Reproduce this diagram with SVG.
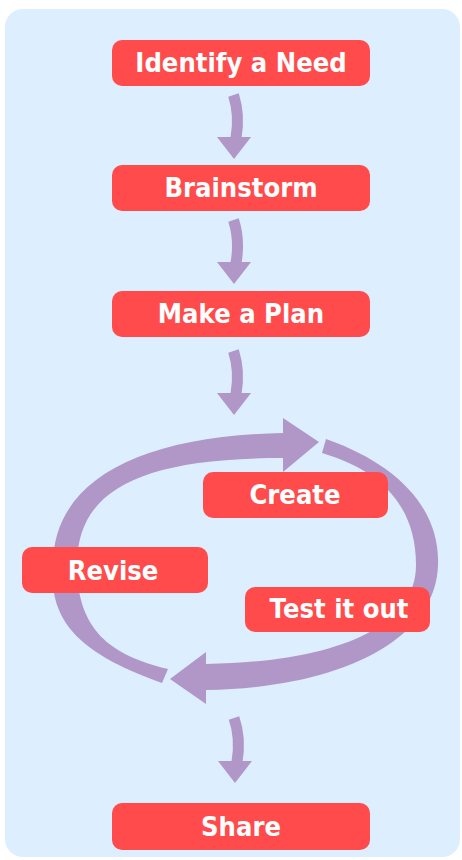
<svg xmlns="http://www.w3.org/2000/svg" width="462" height="860" viewBox="0 0 462 860">
  <style>
    .box { fill: #ff4b4b; }
    .label { fill: #ffffff; font-family: "DejaVu Sans", "Verdana", sans-serif; font-weight: bold; font-size: 24.4px; text-anchor: middle; }
    .shaft { fill: none; stroke: #b197c7; stroke-width: 11; stroke-linecap: butt; }
    .flow { fill: #b197c7; }
  </style>

  <!-- panel -->
  <rect x="5" y="9" width="455" height="848" rx="18" fill="#ddeeff"/>

  <!-- connectors -->
  <g id="connectors">
    <!-- straight-ish step arrows -->
    <g id="arrow-need-brainstorm">
      <path class="shaft" d="M233.5,95 Q240,115 236,138"/>
      <polygon class="flow" points="217,137 251,137 234,159"/>
    </g>
    <g id="arrow-brainstorm-plan">
      <path class="shaft" d="M233.5,220 Q240,240 236,263"/>
      <polygon class="flow" points="217,262 251,262 234,284"/>
    </g>
    <g id="arrow-plan-cycle">
      <path class="shaft" d="M233.5,351 Q240,371 236,394"/>
      <polygon class="flow" points="217,393 251,393 234,415"/>
    </g>
    <g id="arrow-cycle-share">
      <path class="shaft" d="M234,718 Q241,738 237,762"/>
      <polygon class="flow" points="218,761 252,761 235,783"/>
    </g>

    <!-- cycle: left/top arc, tapering, ends in head pointing right -->
    <g id="cycle-upper">
      <path class="flow" d="M162,683 C85,655 48,625 53,565 C53,480 140,436 283,433 L283,458 C140,458 77,490 77,565 C77,630 110,655 168,669 Z"/>
      <polygon class="flow" points="283,418 319,442 283,472"/>
    </g>
    <!-- cycle: right/bottom arc, tapering, ends in head pointing left -->
    <g id="cycle-lower">
      <path class="flow" d="M326,439 C400,465 440,510 438,565 C436,640 340,688 206,690 L206,664 C330,662 416,630 416,565 C416,505 380,470 322,453 Z"/>
      <polygon class="flow" points="206,652 170,679 206,704"/>
    </g>
  </g>

  <!-- nodes (labels stretched a little vertically) -->
  <g id="identify-need">
    <rect class="box" x="112" y="40" width="258" height="46" rx="10"/>
    <text class="label" transform="translate(241,72) scale(1,1.12)">Identify a Need</text>
  </g>
  <g id="brainstorm">
    <rect class="box" x="112" y="165" width="258" height="46" rx="10"/>
    <text class="label" transform="translate(241,197) scale(1,1.12)">Brainstorm</text>
  </g>
  <g id="make-plan">
    <rect class="box" x="112" y="291" width="258" height="46" rx="10"/>
    <text class="label" transform="translate(241,323) scale(1,1.12)">Make a Plan</text>
  </g>
  <g id="create">
    <rect class="box" x="203" y="472" width="185" height="46" rx="10"/>
    <text class="label" transform="translate(295,503.5) scale(1,1.12)">Create</text>
  </g>
  <g id="revise">
    <rect class="box" x="22" y="547" width="186" height="46" rx="10"/>
    <text class="label" transform="translate(113,579.5) scale(1,1.12)">Revise</text>
  </g>
  <g id="test-it-out">
    <rect class="box" x="245" y="587" width="185" height="45" rx="10"/>
    <text class="label" transform="translate(339,618) scale(1,1.12)">Test it out</text>
  </g>
  <g id="share">
    <rect class="box" x="112" y="803" width="258" height="47" rx="10"/>
    <text class="label" transform="translate(241,836) scale(1,1.12)">Share</text>
  </g>
</svg>
